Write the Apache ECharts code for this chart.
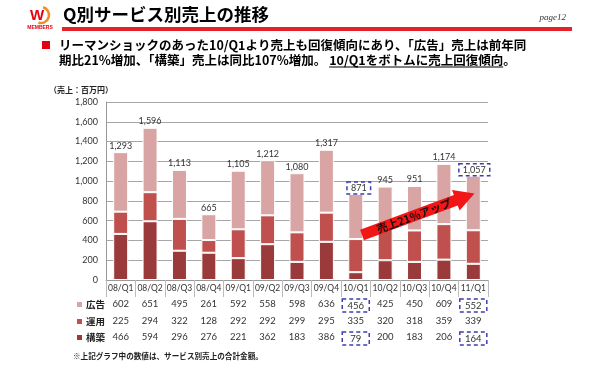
<!DOCTYPE html>
<html><head><meta charset="utf-8">
<script src="https://cdn.jsdelivr.net/npm/echarts@6/dist/echarts.min.js"></script>
<style>html,body{margin:0;padding:0;background:#fff}#c{width:590px;height:366px}</style>
</head><body><div id="c"></div>
<script>
// ---- data ----
const categories = ['08/Q1','08/Q2','08/Q3','08/Q4','09/Q1','09/Q2','09/Q3','09/Q4','10/Q1','10/Q2','10/Q3','10/Q4','11/Q1'];
const koukoku  = [602,651,495,261,592,558,598,636,456,425,450,609,552];
const unyou    = [225,294,322,128,292,292,299,295,335,320,318,359,339];
const kouchiku = [466,594,296,276,221,362,183,386,79,200,183,206,164];
const totals   = [1293,1596,1113,665,1105,1212,1080,1317,871,945,951,1174,1057];
const yMin = 0, yMax = 1800, yInterval = 200;
const boxedTotals = [8,12];
const boxedKoukoku = [8,12];
const boxedKouchiku = [8,12];
const seriesNames = ['広告','運用','構築'];

const colors = {'広告':'#d9a4a4','運用':'#c0504d','構築':'#9a3a3a'};
const JP = '"Noto Sans CJK JP", sans-serif';
const NUM = 'Lato, "Open Sans", sans-serif';
const fmt = v => v.toLocaleString('en-US');
const DASH = '#3d3db0';

const cv = document.createElement('canvas').getContext('2d');
function tw(t, font){ cv.font = font; return cv.measureText(t).width; }

const subFont = 'bold 12.5px ' + JP;
const line2a = '期比21%増加、「構築」売上は同比107%増加。';
const line2b = '10/Q1をボトムに売上回復傾向';
const x2a = 59, x2b = x2a + tw(line2a, subFont) + 3;
const w2b = tw(line2b, subFont);

const chart = echarts.init(document.getElementById('c'), null, {renderer:'canvas'});

const rowOffsets = [16, 33, 49];
function rowAxis(values, boxed, offset){
  return {
    type:'category', data:categories, position:'bottom', offset:offset, gridIndex:0,
    axisLine:{show:false}, axisTick:{show:false}, splitLine:{show:false},
    axisLabel:{
      interval:0, margin:3, fontSize:9.5, fontFamily:NUM, color:'#333',
      formatter:(v,i)=> boxed.includes(i) ? '{box|'+values[i]+'}' : String(values[i]),
      rich:{box:{width:19, align:'center', padding:[2,4,1,4], borderColor:DASH, borderType:[4,3], borderWidth:1.5, fontSize:9.5, fontFamily:NUM, color:'#333'}}
    }
  };
}

const topData = koukoku.map((v,i)=> boxedTotals.includes(i) ? {
  value:v, label:{distance:0, padding:[2,4,1,4], borderColor:DASH, borderType:[4,3], borderWidth:1.5, offset:[i===8?3:1,0]}
} : v);

// row keys of the table (legend)
const keyGraphics = [];
seriesNames.forEach((n, i) => {
  const cy = 280 + rowOffsets[i] + 3 + 5.5;
  keyGraphics.push({type:'rect', shape:{x:77, y:cy - 2.5, width:5, height:5}, style:{fill:colors[n]}});
  keyGraphics.push({type:'text', x:86, y:cy, style:{text:n, font:'bold 9.5px '+JP, fill:'#222', textVerticalAlign:'middle'}});
});

const option = {
  animation:false,
  backgroundColor:'#fff',
  grid:{left:106, right:102, top:102, bottom:86, containLabel:false},
  xAxis:[
    {type:'category', data:categories, gridIndex:0,
     axisLine:{lineStyle:{color:'#999'}},
     axisTick:{show:true, length:17, lineStyle:{color:'#bbb'}},
     axisLabel:{interval:0, margin:4, fontSize:8.5, fontFamily:NUM, color:'#333'}},
    rowAxis(koukoku, boxedKoukoku, rowOffsets[0]),
    rowAxis(unyou, [], rowOffsets[1]),
    rowAxis(kouchiku, boxedKouchiku, rowOffsets[2])
  ],
  yAxis:{type:'value', min:yMin, max:yMax, interval:yInterval,
    axisLine:{show:true, lineStyle:{color:'#999'}}, axisTick:{show:false},
    splitLine:{lineStyle:{color:'#a6a6a6'}},
    axisLabel:{fontSize:9, fontFamily:NUM, color:'#333', margin:8, formatter:v=>fmt(v)}},
  series:[
    {name:'構築', type:'bar', stack:'s', data:kouchiku, barWidth:15,
     itemStyle:{color:colors['構築'], borderColor:'#fff', borderWidth:1}},
    {name:'運用', type:'bar', stack:'s', data:unyou, barWidth:15,
     itemStyle:{color:colors['運用'], borderColor:'#fff', borderWidth:1}},
    {name:'広告', type:'bar', stack:'s', data:topData, barWidth:15,
     itemStyle:{color:colors['広告'], borderColor:'#fff', borderWidth:1},
     label:{show:true, position:'top', distance:2, fontSize:9, fontFamily:NUM, color:'#333',
       formatter:p=>fmt(totals[p.dataIndex])}}
  ],
  graphic:[
    // logo
    {type:'arc', shape:{cx:41, cy:15, r:8, startAngle:-1.3, endAngle:1.9}, style:{stroke:'#f08a24', lineWidth:2.5, fill:null}},
    {type:'text', x:37, y:15.5, style:{text:'W', font:'bold 15px "Liberation Sans", Arial', fill:'#e60012', textAlign:'center', textVerticalAlign:'middle'}},
    {type:'text', x:40, y:28, style:{text:'MEMBERS', font:'bold 5px "Liberation Sans", Arial', fill:'#e60012', textAlign:'center', textVerticalAlign:'middle'}},
    // title
    {type:'text', x:63, y:14, style:{text:'Q別サービス別売上の推移', font:'bold 17.5px '+JP, fill:'#000', textVerticalAlign:'middle'}},
    {type:'rect', shape:{x:62, y:27, width:510, height:4}, style:{fill:'#e8202a'}},
    {type:'text', x:566, y:17.5, style:{text:'page12', font:'italic 9px "Liberation Serif", serif', fill:'#333', textAlign:'right', textVerticalAlign:'middle'}},
    // subtitle
    {type:'rect', shape:{x:42, y:41, width:8, height:8}, style:{fill:'#e60012'}},
    {type:'text', x:59, y:45.5, style:{text:'リーマンショックのあった10/Q1より売上も回復傾向にあり、「広告」売上は前年同', font:subFont, fill:'#000', textVerticalAlign:'middle'}},
    {type:'text', x:x2a, y:60.5, style:{text:line2a, font:subFont, fill:'#000', textVerticalAlign:'middle'}},
    {type:'text', x:x2b, y:60.5, style:{text:line2b + '。', font:subFont, fill:'#000', textVerticalAlign:'middle'}},
    {type:'line', shape:{x1:x2b, y1:67, x2:x2b + w2b, y2:67}, style:{stroke:'#000', lineWidth:1.2}},
    // unit
    {type:'text', x:49, y:90, style:{text:'（売上：百万円）', font:'bold 8px '+JP, fill:'#222', textVerticalAlign:'middle'}},
    // note
    {type:'text', x:73, y:356, style:{text:'※上記グラフ中の数値は、サービス別売上の合計金額。', font:'bold 7.6px '+JP, fill:'#222', textVerticalAlign:'middle'}},
    ...keyGraphics,
    // arrow
    {type:'polygon', z:100, shape:{points:[[360.1,229.8],[453.9,195.1],[452.0,190.0],[474.5,193.4],[459.6,210.6],[457.7,205.5],[363.9,240.2]]},
     style:{fill:'#f21616'}},
    {type:'text', z:101, x:414, y:216, rotation:0.355, style:{text:'売上21%アップ', font:'bold 11px '+JP, fill:'#111', textAlign:'center', textVerticalAlign:'middle'}}
  ]
};
chart.setOption(option);
</script></body></html>
